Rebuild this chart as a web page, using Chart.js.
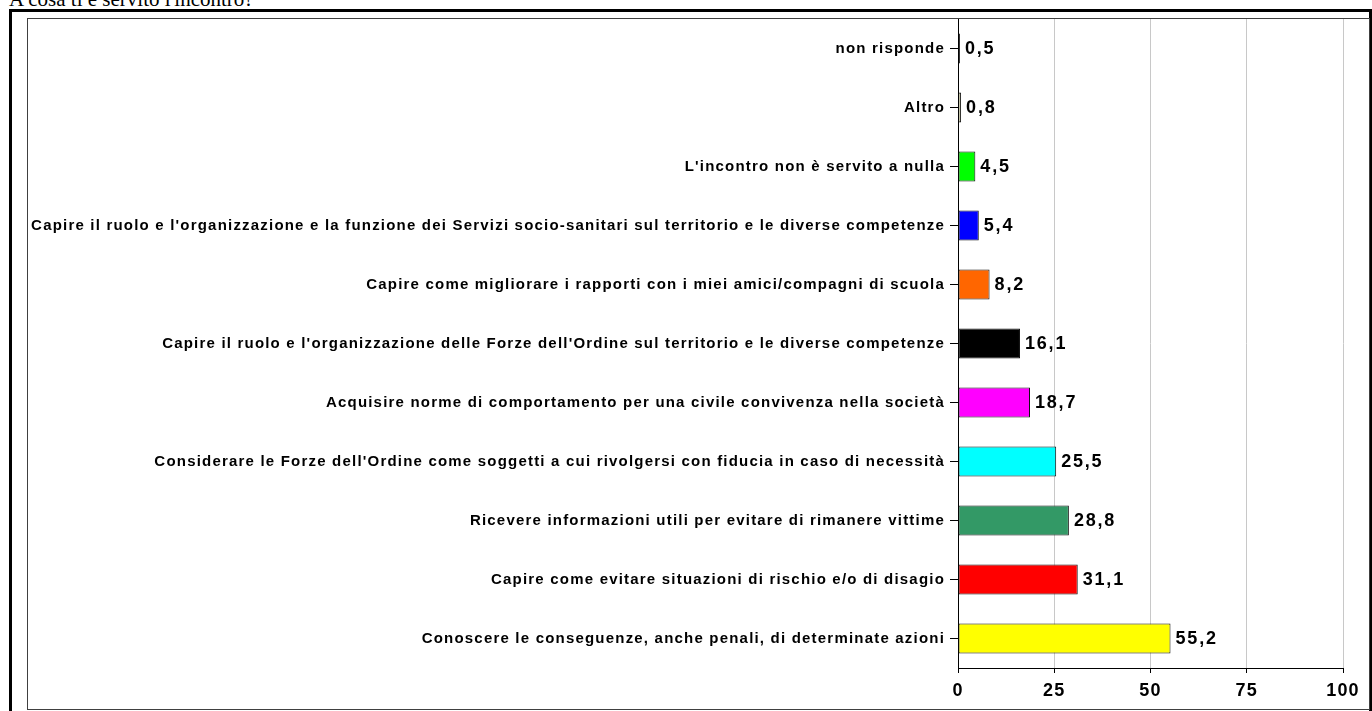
<!DOCTYPE html>
<html>
<head>
<meta charset="utf-8">
<script src="https://cdn.jsdelivr.net/npm/chart.js@4"></script>
<style>
  html, body { margin: 0; padding: 0; background: #fff; overflow: hidden; }
  body { width: 1372px; height: 711px; position: relative; }
  #title { position: absolute; left: 9px; top: -11px; font: 21px/21px "Liberation Serif", "Times New Roman", serif; color: #000; white-space: nowrap; }
  #outer { position: absolute; left: 9px; top: 9px; width: 1363px; height: 710px; border: 3px solid #000; box-sizing: border-box; }
  #inner { position: absolute; left: 27px; top: 18px; width: 1343px; height: 692px; border: 1px solid #404040; box-sizing: border-box; background: #fff; }
  #wrap { position: absolute; left: 28px; top: 19px; width: 1340px; height: 689px; }
</style>
</head>
<body>
<div id="title">A cosa ti è servito l'incontro?</div>
<div id="outer"></div>
<div id="inner"></div>
<div id="wrap"><canvas id="answers-chart" width="1340" height="689"></canvas></div>
<script>
/* Data */
const categories = [
  'non risponde',
  'Altro',
  "L'incontro non è servito a nulla",
  "Capire il ruolo e l'organizzazione e la funzione dei Servizi socio-sanitari sul territorio e le diverse competenze",
  'Capire come migliorare i rapporti con i miei amici/compagni di scuola',
  "Capire il ruolo e l'organizzazione delle Forze dell'Ordine sul territorio e le diverse competenze",
  'Acquisire norme di comportamento per una civile convivenza nella società',
  "Considerare le Forze dell'Ordine come soggetti a cui rivolgersi con fiducia in caso di necessità",
  'Ricevere informazioni utili per evitare di rimanere vittime',
  'Capire come evitare situazioni di rischio e/o di disagio',
  'Conoscere le conseguenze, anche penali, di determinate azioni'
];
const percentages = [0.5, 0.8, 4.5, 5.4, 8.2, 16.1, 18.7, 25.5, 28.8, 31.1, 55.2];
const xTicks = [0, 25, 50, 75, 100];

const barColors = ['#ffffcc', '#ffffcc', '#00ff00', '#0000ff', '#ff6600', '#000000',
                   '#ff00ff', '#00ffff', '#339966', '#ff0000', '#ffff00'];

// the original (Excel) text is a bit wider than Arial, so spread the letters
const spacing = {
  id: 'spacing',
  beforeLayout(chart) { chart.ctx.letterSpacing = '1.2px'; },
  beforeDraw(chart) { chart.ctx.letterSpacing = '1.2px'; }
};

// value labels at the end of each bar, with a comma as decimal mark
const valueLabels = {
  id: 'valueLabels',
  afterDatasetsDraw(chart) {
    const ctx = chart.ctx;
    const meta = chart.getDatasetMeta(0);
    ctx.save();
    ctx.font = 'bold 18px "Liberation Sans", Arial, sans-serif';
    ctx.letterSpacing = '1.8px';
    ctx.fillStyle = '#000';
    ctx.textAlign = 'left';
    ctx.textBaseline = 'middle';
    meta.data.forEach((bar, i) => {
      const txt = percentages[i].toFixed(1).replace('.', ',');
      ctx.fillText(txt, bar.x + 5, bar.y + 1);
    });
    ctx.restore();
  }
};

const ctx = document.getElementById('answers-chart').getContext('2d');
const answersChart = new Chart(ctx, {
  type: 'bar',
  data: {
    labels: categories,
    datasets: [{
      data: percentages,
      backgroundColor: barColors,
      borderColor: '#111',
      borderWidth: 1,
      borderSkipped: false,
      barPercentage: 0.51,
      categoryPercentage: 1
    }]
  },
  options: {
    indexAxis: 'y',
    responsive: false,
    animation: false,
    layout: { padding: { top: 0, right: 25, bottom: 0, left: 0 } },
    plugins: {
      legend: { display: false },
      tooltip: { enabled: false }
    },
    scales: {
      x: {
        min: 0,
        max: 100,
        afterBuildTicks(scale) { scale.ticks = xTicks.map(v => ({ value: v })); },
        afterFit(scale) { scale.height = 40; },
        grid: { color: '#c8c8c8', tickColor: '#000', tickLength: 5, lineWidth: 1 },
        border: { color: '#000', width: 1 },
        ticks: {
          color: '#000',
          padding: 7,
          font: { family: '"Liberation Sans", Arial, sans-serif', size: 18, weight: 'bold' }
        }
      },
      y: {
        afterFit(scale) {
          scale.width = 930;
          scale.paddingTop = 0;
          scale.paddingBottom = 0;
        },
        grid: { display: true, drawOnChartArea: false, offset: false, tickColor: '#000', tickLength: 8 },
        border: { color: '#000', width: 1 },
        ticks: {
          color: '#000',
          padding: 5,
          autoSkip: false,
          font: { family: '"Liberation Sans", Arial, sans-serif', size: 15, weight: 'bold' }
        }
      }
    }
  },
  plugins: [spacing, valueLabels]
});
</script>
</body>
</html>
